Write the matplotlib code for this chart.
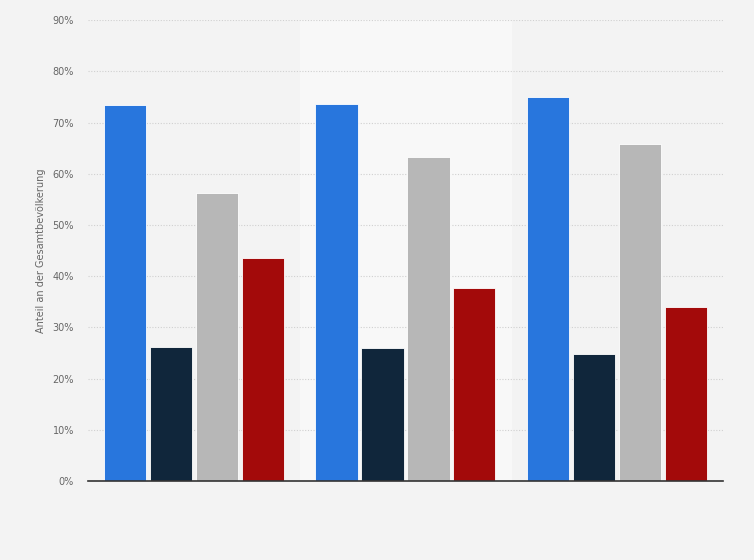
import numpy as np
import matplotlib.pyplot as plt

# Werte (Anteil in %)
groups = ["", "", ""]
series_blue = [73.4, 73.6, 75.0]
series_navy = [26.2, 26.0, 24.8]
series_gray = [56.2, 63.3, 65.8]
series_red = [43.6, 37.7, 34.0]
yticks = [0, 10, 20, 30, 40, 50, 60, 70, 80, 90]

colors = ["#2876dd", "#10263b", "#b7b7b7", "#a30a0a"]
series = [series_blue, series_navy, series_gray, series_red]

fig = plt.figure(figsize=(7.54, 5.6), dpi=100)
fig.patch.set_facecolor("#f3f3f3")
ax = fig.add_axes([0.1167, 0.141, 0.842, 0.823])
ax.set_facecolor("#f3f3f3")

x = np.arange(len(groups))
step = 0.217
width = 0.2
for i, (vals, col) in enumerate(zip(series, colors)):
    ax.bar(x + (i - 1.5) * step, vals, width=width, color=col,
           edgecolor="white", linewidth=0.6, zorder=3)

# hellerer Hintergrund für die mittlere Gruppe
ax.axvspan(0.5, 1.5, color="#f8f8f8", zorder=0)

ax.set_xlim(-0.5, 2.5)
ax.set_ylim(0, 90)
ax.set_yticks(yticks)
ax.set_yticklabels([f"{t}%" for t in yticks], color="#666666", fontsize=7)
ax.set_xticks([])
ax.yaxis.grid(True, linestyle=(0, (1, 1.5)), color="#d0d0d0", linewidth=0.8, zorder=1)
ax.tick_params(axis="y", length=0, pad=10)

for s in ["top", "right", "left"]:
    ax.spines[s].set_visible(False)
ax.spines["bottom"].set_color("#333333")
ax.spines["bottom"].set_linewidth(1.2)
ax.spines["bottom"].set_zorder(4)

ax.set_ylabel("Anteil an der Gesamtbevölkerung", color="#666666", fontsize=7, labelpad=5)

fig.savefig("out.png", dpi=100, facecolor=fig.get_facecolor())
